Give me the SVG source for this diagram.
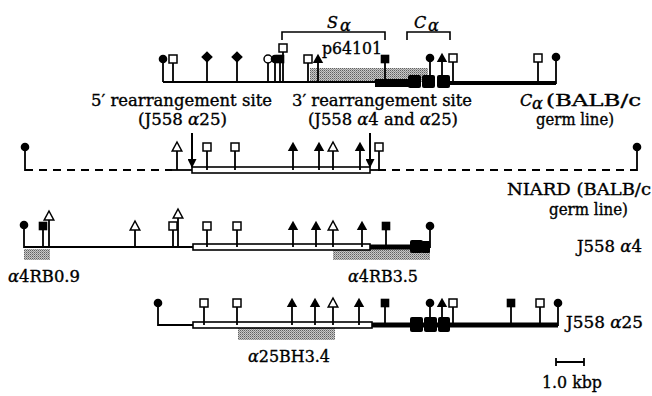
<svg xmlns="http://www.w3.org/2000/svg" width="652" height="396" viewBox="0 0 652 396">
<style>
text{font-family:"DejaVu Serif","Liberation Serif",serif;font-size:16px;fill:#000;stroke:#000;stroke-width:0.35}
.stem{stroke:#000;stroke-width:1.8;fill:none}
.base{stroke:#000;stroke-width:1.8;fill:none}
.thick{stroke:#000;stroke-width:5;fill:none}
.dash{stroke:#000;stroke-width:2.2;stroke-dasharray:8 6;fill:none}
.bar{fill:#fff;stroke:#000;stroke-width:1.6}
.exon{fill:#000}
.shade{fill:url(#stip)}
.br{stroke:#000;stroke-width:1.6;fill:none}
</style>
<defs>
<pattern id="stip" width="2" height="2" patternUnits="userSpaceOnUse">
<rect width="2" height="2" fill="#c8c8c8"/>
<rect width="1" height="1" fill="#606060"/>
<rect x="1" y="1" width="1" height="1" fill="#909090"/>
</pattern>
<g id="fc"><circle r="4.3" fill="#000"/></g>
<g id="oc"><circle r="4" fill="#fff" stroke="#000" stroke-width="1.5"/></g>
<g id="os"><rect x="-4" y="-4" width="8" height="8" fill="#fff" stroke="#000" stroke-width="1.5"/></g>
<g id="fs"><rect x="-4.3" y="-4.3" width="8.6" height="8.6" fill="#000"/></g>
<g id="ft"><polygon points="0,-5.2 5.2,4 -5.2,4" fill="#000"/></g>
<g id="ot"><polygon points="0,-5 4.8,4 -4.8,4" fill="#fff" stroke="#000" stroke-width="1.5"/></g>
<g id="fd"><polygon points="0,-5.8 5.8,0 0,5.8 -5.8,0" fill="#000"/></g>
<marker id="ah" viewBox="0 0 10 10" refX="9" refY="5" markerWidth="5" markerHeight="4.5" orient="auto" markerUnits="strokeWidth"><path d="M0,0 L10,5 L0,10 z" fill="#000"/></marker>
</defs>

<g id="labels-top">
<text x="327" y="28" font-style="italic" font-size="19">S</text><text x="340" y="31" font-style="italic" font-size="11">α</text>
<path class="br" d="M282,40 V32 H385 V40"/>
<text x="414" y="28" font-style="italic" font-size="19">C</text><text x="428" y="31" font-style="italic" font-size="11">α</text>
<path class="br" d="M407,40 V32 H450 V40"/>
<text x="322" y="54" textLength="60" lengthAdjust="spacingAndGlyphs">p64101</text>
</g>

<g id="row-balbc-germline">
<rect class="shade" x="310" y="68" width="118" height="14"/>
<path class="base" d="M163,82 H376"/>
<rect x="375" y="79" width="35" height="8" fill="#000"/>
<rect class="exon" x="408" y="75" width="13" height="13" rx="2"/>
<rect class="exon" x="422" y="75" width="13" height="13" rx="2"/>
<rect class="exon" x="437" y="75" width="13" height="13" rx="2"/>
<path d="M449,83 H556" stroke="#000" stroke-width="4"/>
<path class="stem" d="M163,82V59M173,82V59M207,82V57M237,82V57M268,82V59M275,82V59M280,82V59M283,82V48M308,82V59M318,82V59M385,82V59M430,82V58M442,82V58M453,82V58M538,82V58M556,84V57"/>
<use href="#fc" x="163" y="59"/><use href="#os" x="173" y="59"/>
<use href="#fd" x="207" y="57"/><use href="#fd" x="237" y="57"/>
<use href="#oc" x="268" y="59"/><use href="#fc" x="275" y="59"/><use href="#fs" x="280" y="59"/>
<use href="#os" x="283" y="48"/>
<use href="#os" x="308" y="59"/><use href="#ft" x="318" y="59"/>
<use href="#fs" x="385" y="59"/>
<use href="#fc" x="430" y="58"/><use href="#ft" x="442" y="58"/><use href="#os" x="453" y="58"/>
<use href="#os" x="538" y="58"/><use href="#fc" x="556" y="57"/>
<text x="91" y="106" textLength="181" lengthAdjust="spacingAndGlyphs">5′ rearrangement site</text>
<text x="138" y="125" textLength="89" lengthAdjust="spacingAndGlyphs">(J558 <tspan font-style="italic">α</tspan>25)</text>
<text x="292" y="106" textLength="180" lengthAdjust="spacingAndGlyphs">3′ rearrangement site</text>
<text x="308" y="125" textLength="150" lengthAdjust="spacingAndGlyphs">(J558 <tspan font-style="italic">α</tspan>4 and <tspan font-style="italic">α</tspan>25)</text>
<text x="520" y="106" font-style="italic">C</text><text x="532" y="109" font-style="italic" font-size="11">α</text>
<text x="546" y="106" textLength="95" lengthAdjust="spacingAndGlyphs">(BALB/c</text>
<text x="536" y="125" textLength="78" lengthAdjust="spacingAndGlyphs">germ line)</text>
</g>

<g id="row-niard">
<path class="dash" d="M25,170 H172"/>
<path class="base" d="M172,170 H193"/>
<rect class="bar" x="192" y="167" width="178" height="6"/>
<path class="base" d="M370,170 H378"/>
<path class="dash" d="M378,170 H637"/>
<path class="stem" d="M25,171V147M177,170V147M207,170V147M235,170V147M293,170V147M319,170V147M333,170V147M360,170V147M379,170V147M637,171V147"/>
<use href="#fc" x="25" y="147"/><use href="#ot" x="177" y="147"/>
<use href="#os" x="207" y="147"/><use href="#os" x="235" y="147"/>
<use href="#ft" x="293" y="147"/><use href="#ft" x="319" y="147"/><use href="#ot" x="333" y="147"/>
<use href="#ft" x="360" y="147"/><use href="#os" x="379" y="147"/>
<use href="#fc" x="637" y="147"/>
<text x="507" y="195" textLength="144" lengthAdjust="spacingAndGlyphs">NIARD (BALB/c</text>
<text x="549" y="215" textLength="79" lengthAdjust="spacingAndGlyphs">germ line)</text>
</g>

<g id="row-j558a4">
<rect class="shade" x="24" y="249" width="26" height="11"/>
<rect class="shade" x="333" y="249" width="97" height="11"/>
<path class="base" d="M24,247 H193"/>
<rect class="bar" x="193" y="244" width="177" height="6"/>
<path class="thick" d="M370,247 H430"/>
<rect class="exon" x="410" y="240" width="13" height="13" rx="2"/>
<rect class="exon" x="422" y="241" width="8" height="12" rx="1"/>
<path class="stem" d="M24,248V225M43,247V226M49,247V216M135,247V226M173,247V226M178,247V214M207,247V226M237,247V226M293,247V226M316,247V226M333,247V226M362,247V226M386,247V226M430,248V226"/>
<use href="#fc" x="24" y="225"/><use href="#fs" x="43" y="226"/><use href="#ot" x="49" y="216"/>
<use href="#ot" x="135" y="226"/><use href="#os" x="173" y="226"/><use href="#ot" x="178" y="214"/>
<use href="#os" x="207" y="226"/><use href="#os" x="237" y="226"/>
<use href="#ft" x="293" y="226"/><use href="#ft" x="316" y="226"/><use href="#ot" x="333" y="226"/>
<use href="#ft" x="362" y="226"/><use href="#fs" x="386" y="226"/><use href="#fc" x="430" y="226"/>
<text x="8" y="282" textLength="72" lengthAdjust="spacingAndGlyphs"><tspan font-style="italic">α</tspan>4RB0.9</text>
<text x="348" y="282" textLength="70" lengthAdjust="spacingAndGlyphs"><tspan font-style="italic">α</tspan>4RB3.5</text>
<text x="577" y="252" textLength="65" lengthAdjust="spacingAndGlyphs">J558 <tspan font-style="italic">α</tspan>4</text>
</g>

<g id="row-j558a25">
<rect class="shade" x="238" y="328" width="97" height="12"/>
<path class="base" d="M158,325 H193"/>
<rect class="bar" x="193" y="322" width="179" height="6"/>
<path class="thick" d="M372,325 H558"/>
<rect class="exon" x="410" y="317" width="13" height="15" rx="2"/>
<rect class="exon" x="424" y="317" width="13" height="15" rx="2"/>
<rect class="exon" x="438" y="317" width="12" height="15" rx="2"/>
<path class="stem" d="M158,326V303M204,325V303M237,325V303M292,325V303M315,325V303M333,325V303M359,325V303M385,325V303M430,325V303M442,325V303M453,325V303M511,325V303M540,325V303M558,326V303"/>
<use href="#fc" x="158" y="303"/><use href="#os" x="204" y="303"/><use href="#os" x="237" y="303"/>
<use href="#ft" x="292" y="303"/><use href="#ft" x="315" y="303"/><use href="#ot" x="333" y="303"/>
<use href="#ft" x="359" y="303"/><use href="#fs" x="385" y="303"/>
<use href="#fc" x="430" y="303"/><use href="#ft" x="442" y="303"/><use href="#os" x="453" y="303"/>
<use href="#fs" x="511" y="303"/><use href="#os" x="540" y="303"/><use href="#fc" x="558" y="303"/>
<text x="248" y="362" textLength="82" lengthAdjust="spacingAndGlyphs"><tspan font-style="italic">α</tspan>25BH3.4</text>
<text x="566" y="328" textLength="77" lengthAdjust="spacingAndGlyphs">J558 <tspan font-style="italic">α</tspan>25</text>
</g>

<g id="scale">
<path class="stem" d="M556,362 H584 M556,358 V366 M584,358 V366"/>
<text x="542" y="388" textLength="60" lengthAdjust="spacingAndGlyphs">1.0 kbp</text>
</g>

<g id="connectors">
<path d="M192,133 V167" stroke="#000" stroke-width="2" marker-end="url(#ah)"/>
<path d="M370,133 V167" stroke="#000" stroke-width="2" marker-end="url(#ah)"/>
</g>
</svg>
